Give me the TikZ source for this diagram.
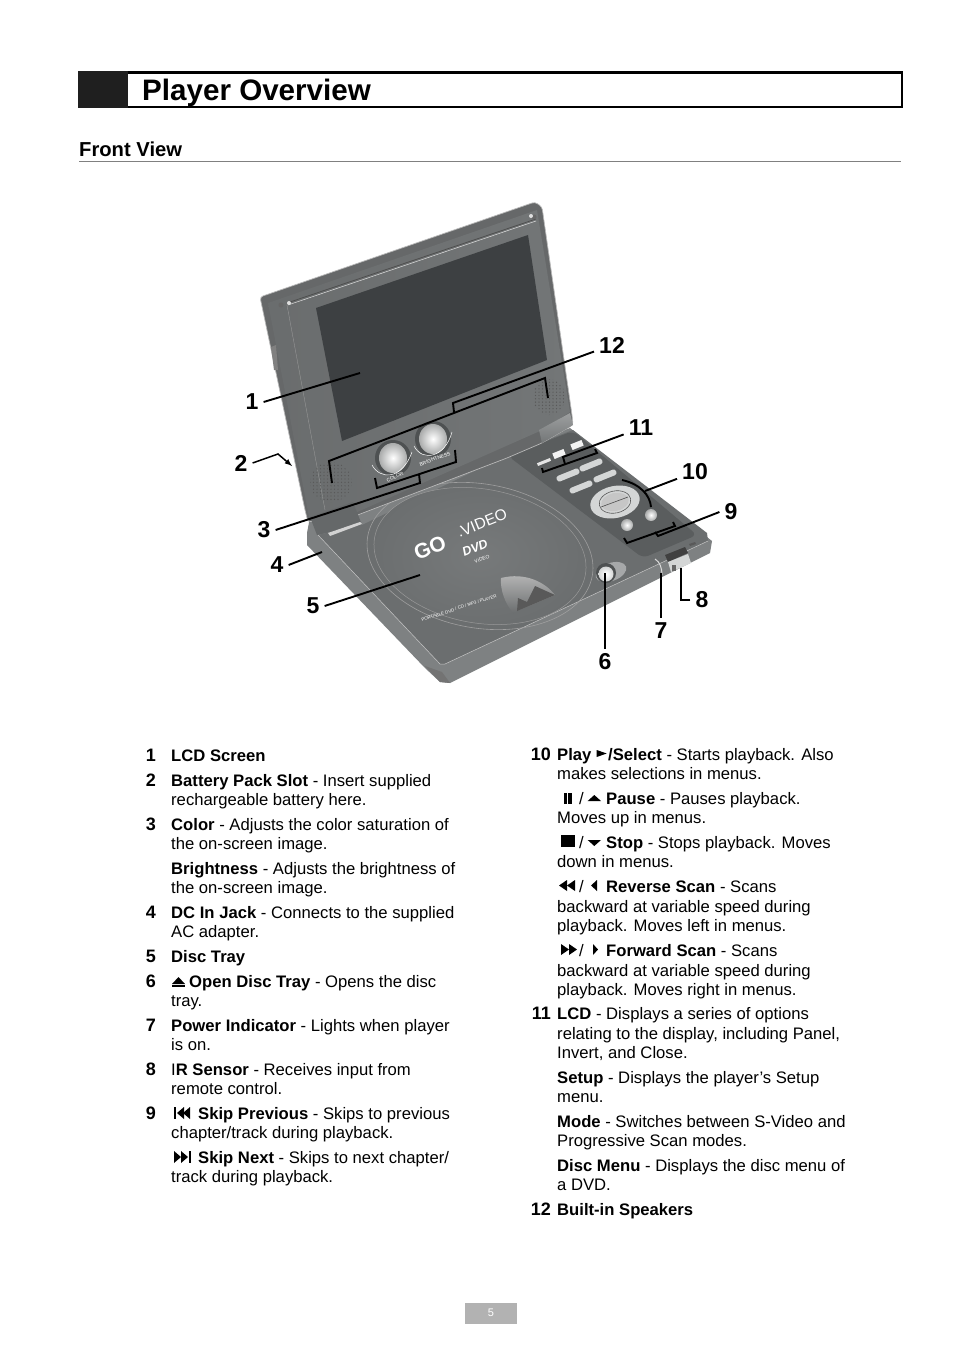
\documentclass[tikz,border=0pt]{standalone}
\usepackage{fontspec}
\setmainfont{Liberation Sans}
\definecolor{lidface}{HTML}{737677}
\definecolor{lidedge}{HTML}{666869}
\definecolor{screenface}{HTML}{3D4042}
\definecolor{plateface}{HTML}{6B6E6F}
\definecolor{lipface}{HTML}{7E8182}
\definecolor{panelface}{HTML}{5A5D5E}
\definecolor{knobring}{HTML}{4E5152}
\definecolor{silver}{HTML}{D4D6D6}
\tikzset{
	bodytext/.style={anchor=base west,inner sep=0pt,font=\fontsize{16.65}{19}\selectfont},
	itemnum/.style={anchor=base east,inner sep=0pt,font=\fontsize{18}{20}\selectfont\bfseries},
	calloutnum/.style={inner sep=5pt,font=\fontsize{23}{25}\selectfont\bfseries},
	leader/.style={line width=1.9pt,black},
	logotext/.style={inner sep=0pt,white,rotate=22},
	tinytext/.style={inner sep=0pt,white,font=\fontsize{5}{6}\selectfont},
}
\begin{document}
\begin{tikzpicture}[x=1pt,y=-1pt]
	\useasboundingbox (0,0) rectangle (954,1348);
	\fill[white] (0,0) rectangle (954,1348);

	\draw[line width=2.4pt] (79,72.5) rectangle (902,107);
	\fill[black!88] (78,71.5) rectangle (128,108);
	\node[anchor=base west,inner sep=0pt,font=\fontsize{29.6}{32}\selectfont\bfseries] (title) at (142,101) {Player Overview};
	\node[anchor=base west,inner sep=0pt,font=\fontsize{20.2}{22}\selectfont\bfseries] (front) at (79,156.5) {Front View};
	\draw[gray,line width=1pt] (79,162) -- (901,162);

	\fill[lipface] (307,533) -- (310,517) -- (570,428) -- (712,541) -- (710,553) -- (450,683) -- (440,682) -- (425,668) -- (307,545) -- cycle;
	\fill[black!55] (425,666) -- (440,682) -- (450,683) -- (442,672) -- cycle;
	\fill[plateface] (318,535) -- (362,525) -- (508,455) -- (573,430) -- (707,533) -- (708,541) -- (445,664) -- (440,664) -- cycle;
	\draw[white!55!gray,line width=0.5pt] (318,535) -- (440,664) -- (445,664) -- (708,541);
	\fill[panelface,rounded corners=6pt] (508,456) -- (573,431) -- (697,535) -- (643,558) -- cycle;

	\draw[white!25!gray,line width=0.6pt] (480,556) ellipse [x radius=114,y radius=72,rotate=-10];
	\shade[inner color=plateface!92!white,outer color=plateface] (480,556) ellipse [x radius=107,y radius=67,rotate=-10];
	\draw[white!20!gray,line width=0.5pt] (480,556) ellipse [x radius=107,y radius=67,rotate=-10];
	\shade[top color=white!45!gray,bottom color=plateface] (501,578) .. controls (525,572) and (545,582) .. (555,595) -- (513,613) .. controls (505,603) and (500,590) .. (501,578);
	\fill[black!65] (517,611) -- (518,598) -- (527,602) -- (535,586) -- (555,595) -- cycle;

	\node[logotext,font=\fontsize{21}{22}\selectfont\bfseries] (logoGo) at (430,548) {GO};
	\node[logotext,font=\fontsize{15.5}{18}\selectfont] (logoVideo) at (482,523) {.VIDEO};
	\node[logotext,font=\fontsize{12.5}{14}\selectfont\bfseries\itshape] (logoDvd) at (475,548) {DVD};
	\node[logotext,font=\fontsize{5}{6}\selectfont] (logoSub) at (482,559) {VIDEO};
	\node[logotext,rotate=-4,font=\fontsize{4.5}{5}\selectfont] (discText) at (459,608) {PORTABLE DVD / CD / MP3 / PLAYER};

	\fill[plateface!60!white] (611,572) ellipse [x radius=16,y radius=9,rotate=20];
	\fill[knobring] (606,573) circle (10);
	\shade[inner color=white,outer color=silver] (606,574) circle (7.5);

	\foreach \x/\y in {568/475,591/465,581/487,605/476}
		\fill[silver,rounded corners=2.5pt,rotate around={22:(\x,\y)}] ({\x-12},{\y-3}) rectangle ({\x+12},{\y+3});
	\fill[white!90!gray,rotate around={22:(559,454)}] (553,451) rectangle (565,457);
	\fill[white!90!gray,rotate around={22:(577,445)}] (571,442) rectangle (583,448);
	\fill[white!80!gray,rotate around={22:(544,462)}] (537,460.5) rectangle (551,463.5);
	\fill[silver] (615,502) ellipse [x radius=25,y radius=16,rotate=12];
	\draw[black!65,line width=0.6pt] (615,502) ellipse [x radius=16,y radius=11,rotate=12];
	\fill[white!55!gray] (615,502) ellipse [x radius=14,y radius=9,rotate=12];
	\draw[black!70,line width=0.6pt] (601,507) -- (628,497);
	\foreach \x/\y in {651/515,627/525}
		\shade[inner color=white,outer color=silver!80!black] (\x,\y) circle (6);

	\fill[black!75] (665,555) -- (685,547) -- (688,553) -- (668,562) -- cycle;
	\fill[silver] (668,562) -- (688,554) -- (691,563) -- (671,572) -- cycle;
	\fill[black!60] (672,565) rectangle (676,571);
	\draw[white!70!gray,line width=1pt] (655,559) .. controls (660,562) and (662,568) .. (662,575);
	\fill[black!65] (689,544) -- (695,542) -- (696,544) -- (690,546) -- cycle;

	\filldraw[fill=lidedge,draw=white!45!gray,line width=0.7pt] (260,297) [rounded corners=3pt] -- (535,202) -- (542,207) -- (572,415) -- (573,425) -- (542,443) -- (507,458) -- (355,516) -- (308,522) -- (305,510) -- cycle;
	\shade[left color=lidface!92!black,right color=lidface] (268,303) -- (537,210) -- (570,412) -- (540,431) -- (355,513) -- (309,517) -- cycle;
	\fill[black!50] (271,347) -- (276,345) -- (278,370) -- (274,370) -- cycle;
	\draw[black!70,line width=0.7pt] (287,303) -- (536,219);
	\draw[white!75!gray,line width=0.5pt] (288,305) -- (536,221);
	\draw[white!25!gray,line width=0.3pt] (287,305) -- (325,510);
	\fill[black!60] (281,305) circle (2.5);
	\fill[white!75!gray] (289,303) circle (2);
	\fill[black!60] (534,217) circle (2.5);
	\fill[white!75!gray] (531,216) circle (2);
	\fill[screenface] (316,308) -- (528,235) -- (547,360) -- (342,441) -- cycle;

	\begin{scope}
		\clip (331,482) ellipse [x radius=21,y radius=20];
		\foreach \i in {0,...,12}
			\foreach \j in {0,...,12}
				\fill[black!65] ({310+3.5*\i},{462+3.4*\j}) circle (0.7);
	\end{scope}
	\begin{scope}
		\clip (549,397) ellipse [x radius=16,y radius=18];
		\foreach \i in {0,...,10}
			\foreach \j in {0,...,12}
				\fill[black!65] ({532+3.5*\i},{379+3.3*\j}) circle (0.7);
	\end{scope}

	\fill[lidface!88!black] (310,517) -- (353,502) -- (362,525) -- (317,535) -- cycle;
	\fill[white!65!gray] (328,533) -- (360,522) -- (362,524) -- (330,536) -- cycle;
	\shade[top color=lidface!70!white,bottom color=lidface] (539,430) -- (570,413) -- (573,425) -- (542,443) -- cycle;

	\fill[knobring] (393,458) circle (18);
	\fill[knobring] (433,439) circle (18);
	\shade[inner color=white,outer color=silver!80!black] (393,458) ellipse [x radius=14,y radius=15];
	\shade[inner color=white,outer color=silver!80!black] (433,439) ellipse [x radius=14,y radius=15];
	\draw[white,line width=0.5pt] (372,465) .. controls (380,480) and (402,480) .. (412,452);
	\draw[white,line width=0.5pt] (414,446) .. controls (422,462) and (445,458) .. (452,432);
	\node[tinytext,rotate=25] (colorText) at (395,477) {COLOR};
	\node[tinytext,rotate=20] (brightText) at (435,459) {BRIGHTNESS};

	\foreach \n/\x/\y in {1/252/402,2/241/463,3/264/530,4/277/565,5/313/606,6/605/662,7/661/631,8/702/600,9/731/512,10/695/472,11/641/428,12/612/345}
		\node[calloutnum] (num\n) at (\x,\y) {\n};

	\coordinate (end1) at (360,373);
	\coordinate (end2a) at (278,454);
	\coordinate (end2) at (292,466);
	\coordinate (end3) at (420,483);
	\coordinate (end3a) at (419,474);
	\coordinate (end4) at (322,552);
	\coordinate (end5) at (420,575);
	\coordinate (end6) at (605,573);
	\coordinate (end7) at (661,573);
	\coordinate (end8a) at (681,600);
	\coordinate (end8) at (681,568);
	\coordinate (end9a) at (658,536);
	\coordinate (end9) at (655,532);
	\coordinate (end10) at (645,491);
	\coordinate (end11a) at (563,457);
	\coordinate (end11) at (565,464);
	\coordinate (end12a) at (453,403);
	\coordinate (end12) at (454,412);

	\draw[leader] (num1.east) -- (end1);
	\draw[line width=1.5pt,-latex] (num2.east) -- (end2a) -- (end2);
	\draw[leader] (num3.east) -- (end3) -- (end3a);
	\draw[leader] (375,478) -- (377,488) -- (456,462) -- (455,450);
	\draw[leader] (num4.east) -- (end4);
	\draw[leader] (num5.east) -- (end5);
	\draw[leader] (num6) -- (end6);
	\draw[leader] (num7) -- (end7);
	\draw[leader] (num8) -- (end8a) -- (end8);
	\draw[leader] (num9.west) -- (end9a) -- (end9);
	\draw[leader] (624,538) -- (627,543) -- (675,526) -- (673,522);
	\draw[leader] (num10) -- (end10);
	\draw[leader] (622,480) .. controls (640,484) and (650,495) .. (651,507);
	\draw[leader] (num11) -- (end11a) -- (end11);
	\draw[leader] (542,468) -- (543,472) -- (597,453) -- (595,449);
	\draw[leader] (num12) -- (end12a) -- (end12);
	\draw[leader] (332,483) -- (329,461) -- (545,378) -- (548,398);

	\foreach \n/\y in {1/761,2/786,3/830,4/918,5/962,6/987,7/1031,8/1075,9/1119}
		\node[itemnum] (item\n) at (156,\y) {\n};
	\foreach \n/\y in {10/760,11/1019,12/1215}
		\node[itemnum] (item\n) at (551,\y) {\n};

	\node[bodytext] (a1) at (171,761) {\textbf{LCD Screen}};
	\node[bodytext] (a2) at (171,786) {\textbf{Battery Pack Slot} - Insert supplied};
	\node[bodytext] (a3) at (171,805) {rechargeable battery here.};
	\node[bodytext] (a4) at (171,830) {\textbf{Color} - Adjusts the color saturation of};
	\node[bodytext] (a5) at (171,849) {the on-screen image.};
	\node[bodytext] (a6) at (171,874) {\textbf{Brightness} - Adjusts the brightness of};
	\node[bodytext] (a7) at (171,893) {the on-screen image.};
	\node[bodytext] (a8) at (171,918) {\textbf{DC In Jack} - Connects to the supplied};
	\node[bodytext] (a9) at (171,937) {AC adapter.};
	\node[bodytext] (a10) at (171,962) {\textbf{Disc Tray}};
	\node[bodytext] (a11) at (189,987) {\textbf{Open Disc Tray} - Opens the disc};
	\node[bodytext] (a12) at (171,1006) {tray.};
	\node[bodytext] (a13) at (171,1031) {\textbf{Power Indicator} - Lights when player};
	\node[bodytext] (a14) at (171,1050) {is on.};
	\node[bodytext] (a15) at (171,1075) {I\textbf{R Sensor} - Receives input from};
	\node[bodytext] (a16) at (171,1094) {remote control.};
	\node[bodytext] (a17) at (198,1119) {\textbf{Skip Previous} - Skips to previous};
	\node[bodytext] (a18) at (171,1138) {chapter/track during playback.};
	\node[bodytext] (a19) at (198,1163) {\textbf{Skip Next} - Skips to next chapter/};
	\node[bodytext] (a20) at (171,1182) {track during playback.};

	\node[bodytext] (b1) at (557,760) {\textbf{Play}};
	\node[bodytext] (b1a) at (608,760) {\textbf{/Select} - Starts playback. Also};
	\node[bodytext] (b2) at (557,779) {makes selections in menus.};
	\node[bodytext] (b3) at (579,804) {/};
	\node[bodytext] (b3a) at (606,804) {\textbf{Pause} - Pauses playback.};
	\node[bodytext] (b4) at (557,823) {Moves up in menus.};
	\node[bodytext] (b5) at (579,848) {/};
	\node[bodytext] (b5a) at (606,848) {\textbf{Stop} - Stops playback. Moves};
	\node[bodytext] (b6) at (557,867) {down in menus.};
	\node[bodytext] (b7) at (579,892) {/};
	\node[bodytext] (b7a) at (606,892) {\textbf{Reverse Scan} - Scans};
	\node[bodytext] (b8) at (557,912) {backward at variable speed during};
	\node[bodytext] (b9) at (557,931) {playback. Moves left in menus.};
	\node[bodytext] (b10) at (579,956) {/};
	\node[bodytext] (b10a) at (606,956) {\textbf{Forward Scan} - Scans};
	\node[bodytext] (b11) at (557,976) {backward at variable speed during};
	\node[bodytext] (b12) at (557,995) {playback. Moves right in menus.};
	\node[bodytext] (b13) at (557,1019) {\textbf{LCD} - Displays a series of options};
	\node[bodytext] (b14) at (557,1039) {relating to the display, including Panel,};
	\node[bodytext] (b15) at (557,1058) {Invert, and Close.};
	\node[bodytext] (b16) at (557,1083) {\textbf{Setup} - Displays the player’s Setup};
	\node[bodytext] (b17) at (557,1102) {menu.};
	\node[bodytext] (b18) at (557,1127) {\textbf{Mode} - Switches between S-Video and};
	\node[bodytext] (b19) at (557,1146) {Progressive Scan modes.};
	\node[bodytext] (b20) at (557,1171) {\textbf{Disc Menu} - Displays the disc menu of};
	\node[bodytext] (b21) at (557,1190) {a DVD.};
	\node[bodytext] (b22) at (557,1215) {\textbf{Built-in Speakers}};

	\fill (596.7,750) -- (606.7,753.5) -- (596.7,757) -- cycle;
	\fill (564,793) rectangle (566.7,804);
	\fill (568.3,793) rectangle (571.5,804);
	\fill (587.7,801) -- (594.3,795) -- (601,801) -- cycle;
	\fill (561,835) rectangle (575,847);
	\fill (587.7,840) -- (601,840) -- (594.3,846) -- cycle;
	\foreach \x in {559,567}
		\fill (\x,885.5) -- (\x+8,880) -- (\x+8,891) -- cycle;
	\fill (591,885.5) -- (597,880) -- (597,891) -- cycle;
	\foreach \x in {561,569}
		\fill (\x,944) -- (\x+8,949.5) -- (\x,955) -- cycle;
	\fill (593,944) -- (598,949.5) -- (593,955) -- cycle;
	\fill (172,984) -- (178.5,977) -- (185,984) -- cycle;
	\fill (172,985) rectangle (185,987);
	\fill (174,1107) rectangle (176,1119);
	\foreach \x in {177,183}
		\fill (\x,1113) -- (\x+7,1107) -- (\x+7,1119) -- cycle;
	\foreach \x in {174,181}
		\fill (\x,1151) -- (\x+7,1157) -- (\x,1163) -- cycle;
	\fill (189,1151) rectangle (191,1163);

	\fill[black!30] (465,1303) rectangle (517,1324);
	\node[inner sep=0pt,white,font=\fontsize{11}{13}\selectfont] (page) at (491,1313) {5};
\end{tikzpicture}
\end{document}
